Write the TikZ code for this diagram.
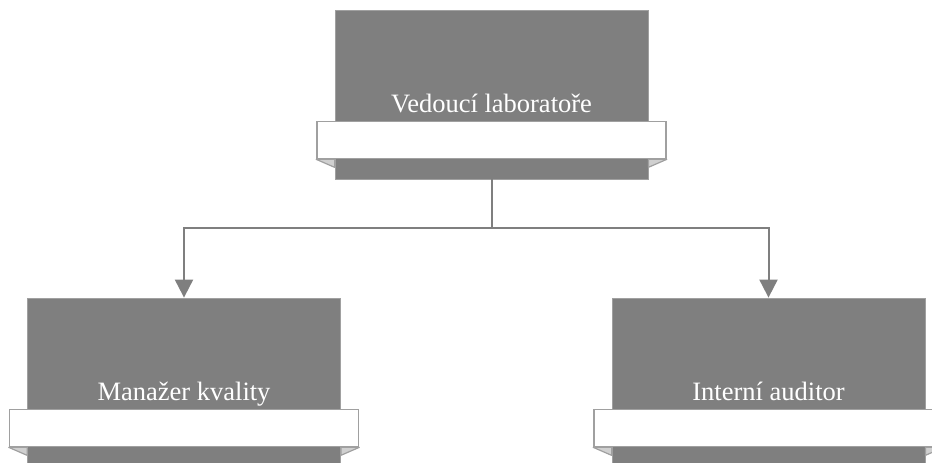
\documentclass[tikz,border=0pt]{standalone}
\usepackage{fontspec}
\setmainfont{Liberation Serif}
\usetikzlibrary{arrows.meta,calc}

\definecolor{boxgray}{HTML}{7F7F7F}
\definecolor{edgegray}{HTML}{A0A0A0}
\definecolor{foldgray}{HTML}{D0D0D0}

\tikzset{
	box/.style={rectangle, fill=boxgray, draw=edgegray, line width=0.8pt, minimum width=313pt, minimum height=169pt, inner sep=0pt},
	band/.style={rectangle, fill=white, draw=edgegray, line width=1.5pt, minimum width=349pt, minimum height=37pt, inner sep=0pt},
	fold/.style={fill=foldgray, draw=edgegray, line width=1.2pt, line join=round},
	title/.style={anchor=base, text=white, font=\fontsize{26.5}{30}\selectfont, inner sep=0pt},
	conn/.style={draw=boxgray, line width=2pt},
	arr/.style={conn, -{Triangle[width=18pt,length=18pt]}}
}

\begin{document}
\begin{tikzpicture}[x=1pt, y=-1pt]
		\useasboundingbox (0,0) rectangle (932,463);
		\node[box] (lab) at (491.5,94.5) {};
		\node[box] (mgr) at (184,382.5) {};
		\node[box] (aud) at (768.5,382.5) {};
		\node[band] (labband) at ([yshift=-130.5pt]lab.north) {};
		\node[band] (mgrband) at ([yshift=-130.5pt]mgr.north) {};
		\node[band] (audband) at ([yshift=-130.5pt]aud.north) {};
		\filldraw[fold] (labband.south west) -- ($(labband.south west -| lab.west)+(0,8)$) -- (labband.south west -| lab.west) -- cycle;
		\filldraw[fold] (labband.south east) -- ($(labband.south east -| lab.east)+(0,8)$) -- (labband.south east -| lab.east) -- cycle;
		\filldraw[fold] (mgrband.south west) -- ($(mgrband.south west -| mgr.west)+(0,8)$) -- (mgrband.south west -| mgr.west) -- cycle;
		\filldraw[fold] (mgrband.south east) -- ($(mgrband.south east -| mgr.east)+(0,8)$) -- (mgrband.south east -| mgr.east) -- cycle;
		\filldraw[fold] (audband.south west) -- ($(audband.south west -| aud.west)+(0,8)$) -- (audband.south west -| aud.west) -- cycle;
		\filldraw[fold] (audband.south east) -- ($(audband.south east -| aud.east)+(0,8)$) -- (audband.south east -| aud.east) -- cycle;
		\node[band] at (labband) {};
		\node[band] at (mgrband) {};
		\node[band] at (audband) {};
		\node[title] (labtext) at ([yshift=-103pt]lab.north) {Vedoucí laboratoře};
		\node[title] (mgrtext) at ([yshift=-103pt]mgr.north) {Manažer kvality};
		\node[title] (audtext) at ([yshift=-103pt]aud.north) {Interní auditor};
		\coordinate (split) at (lab.south |- 0,228);
		\draw[conn] (lab.south) -- (split);
		\draw[arr] (split) -| (mgr.north);
		\draw[arr] (split) -| (aud.north);
\end{tikzpicture}
\end{document}
